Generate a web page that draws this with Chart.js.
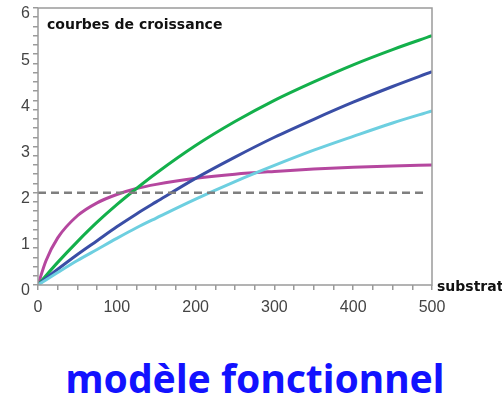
<!DOCTYPE html>
<html>
<head>
<meta charset="utf-8">
<script src="https://cdn.jsdelivr.net/npm/chart.js@4.4.0/dist/chart.umd.min.js"></script>
<style>
  body { margin: 0; background: #fff; width: 502px; height: 401px; overflow: hidden; position: relative; }
  #wrap { position: relative; width: 502px; height: 330px; }
  #caption {
    position: absolute; left: 0; top: 358px; width: 510px; text-align: center; line-height: 39px;
    font-family: "Noto Sans", sans-serif; font-weight: bold; font-size: 39px; color: #1212ff;
    white-space: nowrap;
  }
</style>
</head>
<body>
<div id="wrap"><canvas id="growthChart" width="502" height="330"></canvas></div>
<div id="caption">modèle fonctionnel</div>
<script>
// substrate values (x) where the curves were read
var substrat = [0, 10, 25, 50, 75, 100, 125, 150, 200, 250, 300, 350, 400, 450, 500];

// growth curves
var courbeVerte  = [0, 0.20, 0.49, 0.94, 1.36, 1.74, 2.09, 2.42, 3.02, 3.54, 4.00, 4.40, 4.77, 5.10, 5.40];
var courbeBleue  = [0, 0.14, 0.34, 0.66, 0.96, 1.26, 1.54, 1.80, 2.31, 2.77, 3.20, 3.59, 3.96, 4.30, 4.62];
var courbeCyan   = [0, 0.11, 0.27, 0.53, 0.77, 1.01, 1.24, 1.45, 1.86, 2.24, 2.59, 2.92, 3.22, 3.51, 3.77];
var courbeViolet = [0, 0.52, 1.02, 1.50, 1.78, 1.96, 2.09, 2.18, 2.31, 2.40, 2.46, 2.51, 2.55, 2.58, 2.60];

// horizontal reference level
var seuilX = [0, 492];
var seuilY = [2, 2];

function points(xs, ys) {
    return xs.map(function (x, i) { return { x: x, y: ys[i] }; });
}

function curve(label, values, color) {
    return {
        label: label,
        data: points(substrat, values),
        borderColor: color,
        borderWidth: 3,
        pointRadius: 0,
        fill: false,
        cubicInterpolationMode: 'monotone'
    };
}

// frame around the plot + the two text labels
var framePlugin = {
    id: 'frame',
    afterDraw: function (chart) {
        var a = chart.chartArea, c = chart.ctx;
        c.save();
        c.strokeStyle = '#9a9a9a';
        c.lineWidth = 1.5;
        c.strokeRect(a.left, a.top, a.right - a.left, a.bottom - a.top);
        c.fillStyle = '#111';
        c.font = 'bold 14px "DejaVu Sans", sans-serif';
        c.textBaseline = 'middle';
        c.fillText('courbes de croissance', 47, 25);
        c.fillText('substrat', a.right + 5, a.bottom + 2);
        c.restore();
    }
};

var tickFont = { family: '"Liberation Sans", Arial, sans-serif', size: 16 };

var ctx = document.getElementById('growthChart').getContext('2d');
var growthChart = new Chart(ctx, {
    type: 'line',
    data: {
        datasets: [
            {
                label: 'seuil',
                data: points(seuilX, seuilY),
                borderColor: '#7f7f7f',
                borderWidth: 2.5,
                borderDash: [8, 5],
                pointRadius: 0,
                fill: false
            },
            curve('cyan', courbeCyan, '#6dcfe0'),
            curve('bleu', courbeBleue, '#3a4ea6'),
            curve('vert', courbeVerte, '#13b04b'),
            curve('violet', courbeViolet, '#b5479f')
        ]
    },
    options: {
        responsive: false,
        animation: false,
        layout: { padding: { top: 8, right: 70, left: 0, bottom: 0 } },
        scales: {
            x: {
                type: 'linear',
                min: 0,
                max: 500,
                border: { display: false },
                grid: { drawOnChartArea: false, drawTicks: true, tickLength: 5, color: '#9a9a9a', lineWidth: 1.5 },
                afterFit: function (scale) {
                    scale.height = 45;
                    scale.paddingLeft = 0;
                    scale.paddingRight = 0;
                },
                ticks: {
                    stepSize: 25,
                    autoSkip: false,
                    maxRotation: 0,
                    padding: 8,
                    color: '#444444',
                    font: tickFont,
                    callback: function (v) { return v % 100 === 0 ? v : ''; }
                }
            },
            y: {
                min: 0,
                max: 6,
                border: { display: false },
                grid: { drawOnChartArea: false, drawTicks: true, tickLength: 5, color: '#9a9a9a', lineWidth: 1.5 },
                afterFit: function (scale) {
                    scale.width = 38;
                    scale.paddingTop = 0;
                    scale.paddingBottom = 0;
                },
                ticks: {
                    stepSize: 0.2,
                    autoSkip: false,
                    padding: 3,
                    labelOffset: 6,
                    color: '#444444',
                    font: tickFont,
                    callback: function (v) {
                        var r = Math.round(v * 10) / 10;
                        return Number.isInteger(r) ? r : '';
                    }
                }
            }
        },
        plugins: {
            legend: { display: false },
            tooltip: { enabled: false }
        }
    },
    plugins: [framePlugin]
});
</script>
</body>
</html>
